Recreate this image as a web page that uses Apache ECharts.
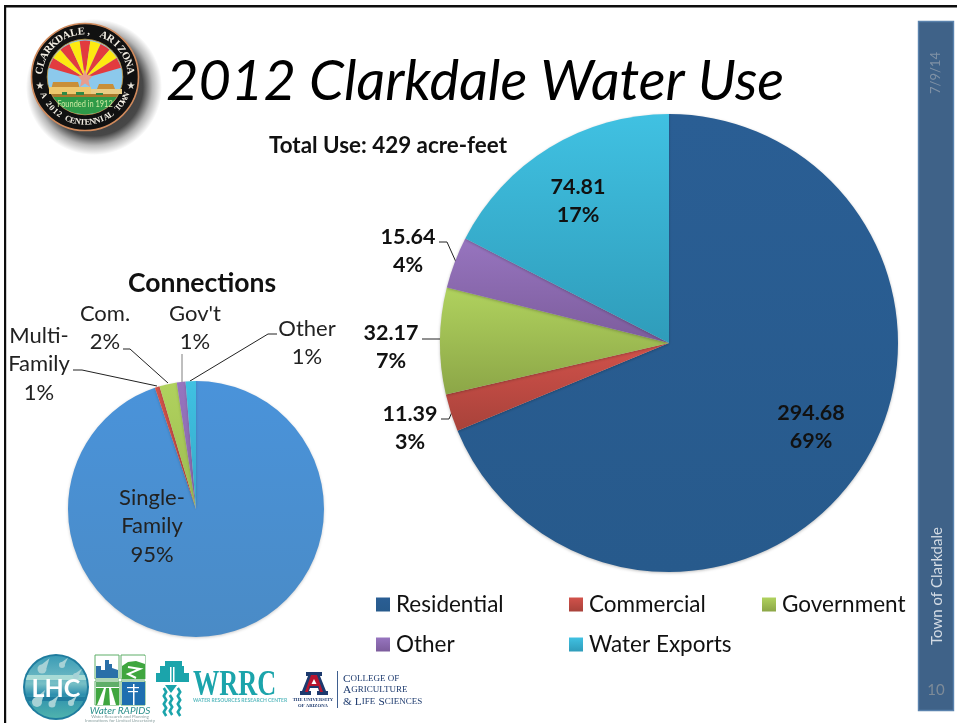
<!DOCTYPE html>
<html>
<head>
<meta charset="utf-8">
<title>2012 Clarkdale Water Use</title>
<script src="https://cdn.jsdelivr.net/npm/echarts@6/dist/echarts.min.js"></script>
<style>
html,body{margin:0;padding:0;background:#fff}
#chart{width:957px;height:723px}
</style>
</head>
<body>
<div id="chart"></div>
<script>
// Water use by sector, acre-feet
const useNames = ['Residential', 'Commercial', 'Government', 'Other', 'Water Exports'];
const useValues = [294.68, 11.39, 32.17, 15.64, 74.81];

// Service connections by customer type, percent
const connectionNames = ['Single-\nFamily', 'Multi-\nFamily', 'Com.', "Gov't", 'Other'];
const connectionValues = [94.8, 0.6, 2.2, 1.1, 1.3];

const useColors = [
  ['#2a5e94', '#275a8c'], ['#d2524b', '#a8423a'], ['#b0d25e', '#8ca647'],
  ['#9775bf', '#7c5c9c'], ['#40c1e2', '#2f9cba']
];
const connectionColors = [
  ['#4a93da', '#4a8bc6'], ['#d2524b', '#b8453e'], ['#b0d25e', '#9cbb50'],
  ['#9775bf', '#8665a8'], ['#40c1e2', '#35a9c8']
];

// Where each slice's label sits, with its leader line
const useLabelSpots = [
  {x: 811, y: 427, line: null},
  {x: 410, y: 428, line: [[441, 419], [449, 419], [452, 412]]},
  {x: 391, y: 347, line: [[422, 339], [432, 339], [442, 339]]},
  {x: 408, y: 251, line: [[439, 242], [447, 242], [456, 262]]},
  {x: 578, y: 201, line: null}
];
const connectionLabelSpots = [
  {x: 152, y: 526, line: null},
  {x: 39, y: 364, line: [[73, 370], [82, 370], [157, 386]]},
  {x: 105, y: 328, line: [[123, 349], [130, 349], [168, 383]]},
  {x: 195, y: 328, line: [[182, 354], [182, 368], [182, 382]], color: '#7f7f7f'},
  {x: 307, y: 343, line: [[277, 334], [268, 334], [190, 381]]}
];

const sans = 'Lato, Carlito, "Open Sans", sans-serif';
const serif = '"Liberation Serif", serif';

function vertical(pair) {
  return {type: 'linear', x: 0, y: 0, x2: 0, y2: 1,
    colorStops: [{offset: 0, color: pair[0]}, {offset: 1, color: pair[1]}]};
}

function pieData(names, values, colors, spots) {
  return names.map((name, i) => ({
    name: name,
    value: values[i],
    itemStyle: {color: vertical(colors[i])},
    labelLine: {show: !!spots[i].line, lineStyle: {color: spots[i].color || '#222', width: 1}}
  }));
}

function placeLabels(spots) {
  return params => {
    const spot = spots[params.dataIndex];
    const layout = {x: spot.x, y: spot.y, align: 'center', verticalAlign: 'middle'};
    if (spot.line) layout.labelLinePoints = spot.line;
    return layout;
  };
}

// Decoration helpers
function txt(text, x, y, font, fill, align, extra) {
  return Object.assign({
    type: 'text', x: x, y: y, silent: true,
    style: {text: text, font: font, fill: fill, align: align || 'left', verticalAlign: 'middle'}
  }, extra || {});
}
function rect(x, y, w, h, fill, extra) {
  return Object.assign({type: 'rect', shape: {x: x, y: y, width: w, height: h},
    style: {fill: fill}, silent: true}, extra || {});
}
function circle(cx, cy, r, style) {
  return {type: 'circle', shape: {cx: cx, cy: cy, r: r}, style: style, silent: true};
}
function poly(points, fill) {
  return {type: 'polygon', shape: {points: points}, style: {fill: fill}, silent: true};
}
// Slice of a disc lying between two horizontal lines
function band(cx, cy, r, y1, y2, fill) {
  const pts = [];
  for (let k = 0; k <= 12; k++) {
    const y = y1 + (y2 - y1) * k / 12, d = Math.sqrt(Math.max(0, r * r - (y - cy) * (y - cy)));
    pts.push([cx + d, y]);
  }
  for (let k = 12; k >= 0; k--) {
    const y = y1 + (y2 - y1) * k / 12, d = Math.sqrt(Math.max(0, r * r - (y - cy) * (y - cy)));
    pts.push([cx - d, y]);
  }
  return poly(pts, fill);
}
// Letters set along a circle; angles in degrees, clockwise from the top
function ringText(text, cx, cy, r, from, to, font, fill, bottom) {
  const chars = Array.from(text);
  return chars.map((ch, i) => {
    const a = (from + (to - from) * i / (chars.length - 1)) * Math.PI / 180;
    const rot = bottom ? -(a - Math.PI) : -a;
    return {
      type: 'text', silent: true, rotation: rot,
      x: cx + r * Math.sin(a), y: cy - r * Math.cos(a),
      style: {text: ch, font: font, fill: fill, align: 'center', verticalAlign: 'middle'}
    };
  });
}

function sealParts() {
  const cx = 85, cy = 77, parts = [];
  // Soft drop shadow falling to the lower right
  parts.push(circle(cx + 9, cy + 10, 68, {fill: {type: 'radial', x: 0.5, y: 0.5, r: 0.5, colorStops: [
    {offset: 0, color: 'rgba(0,0,0,0.8)'}, {offset: 0.72, color: 'rgba(0,0,0,0.72)'},
    {offset: 0.86, color: 'rgba(0,0,0,0.28)'}, {offset: 1, color: 'rgba(0,0,0,0)'}]}}));
  parts.push(circle(cx, cy, 53.5, {fill: '#111', stroke: '#d08a5c', lineWidth: 1.6}));
  parts.push(circle(cx, cy, 37.8, {fill: '#8cc9ec', stroke: '#c89a3c', lineWidth: 0.8}));
  const rays = 9, startDeg = -164, stepDeg = 148 / rays;
  for (let i = 0; i < rays; i++) {
    parts.push({
      type: 'sector', silent: true,
      shape: {cx: cx, cy: cy + 1, r: 37.4, r0: 0,
        startAngle: (startDeg + i * stepDeg) * Math.PI / 180,
        endAngle: (startDeg + (i + 1) * stepDeg) * Math.PI / 180, clockwise: true},
      style: {fill: i % 2 ? '#fdea10' : '#e23b3f'}
    });
  }
  parts.push({type: 'polygon', silent: true, shape: {points: [
    [cx, 69], [cx + 2, 75], [cx + 7.5, 76], [cx + 3.5, 80.5], [cx + 5, 87],
    [cx, 83.5], [cx - 5, 87], [cx - 3.5, 80.5], [cx - 7.5, 76], [cx - 2, 75]
  ]}, style: {fill: '#e89c8c'}});
  parts.push(band(cx, cy, 37.4, 97, 114.4, '#2f9a48'));
  parts.push(band(cx, cy, 37.4, 94, 97, '#a8792c'));
  parts.push(poly([[51, 90], [53, 82], [78, 82], [80, 89], [82, 90]], '#c98f38'));
  parts.push(poly([[97, 89], [99, 84], [113, 84], [115, 89]], '#c98f38'));
  parts.push(rect(49, 87, 42, 7, '#eec86e'));
  parts.push(rect(91, 89, 31, 5, '#e9cd85'));
  parts.push(rect(62, 92, 5, 3, '#2f8a45'));
  parts.push(rect(76, 92, 8, 3, '#2f8a45'));
  parts.push(rect(96, 93, 7, 2, '#2f8a45'));
  parts.push(txt('Founded in 1912', cx, 103.5, '10px ' + sans, '#cdeaa0', 'center', {scaleX: 0.74}));
  parts.push(...ringText('CLARKDALE, ARIZONA', cx, cy, 45.5, -82, 82, 'bold 10.5px ' + serif, '#f4efe4', false));
  parts.push(...ringText('A 2012 CENTENNIAL TOWN', cx, cy, 45.5, 246, 114, 'bold 8.5px ' + serif, '#f4efe4', true));
  parts.push(txt('★', 40, 86, '10px "DejaVu Sans"', '#e8e4da', 'center'));
  parts.push(txt('★', 131, 86, '10px "DejaVu Sans"', '#e8e4da', 'center'));
  return parts;
}

function lhcParts() {
  const cx = 56, cy = 687, r = 33, parts = [];
  parts.push(circle(cx, cy, r, {fill: '#1f7c9e'}));
  parts.push(circle(cx, cy, r - 2, {fill: {type: 'linear', x: 0, y: 0, x2: 0, y2: 1, colorStops: [
    {offset: 0, color: '#3b9cb6'}, {offset: 0.45, color: '#77bfc6'},
    {offset: 0.62, color: '#2e8fae'}, {offset: 1, color: '#4fb3ad'}]}}));
  parts.push(band(cx, cy, r - 2, 675, 680, '#a8dbd6'));
  parts.push(band(cx, cy, r - 2, 697, 701, '#1f7c9e'));
  [[42, 669, 4.5], [62, 665, 3], [76, 676, 3], [37, 702, 5], [52, 704, 3.5], [71, 703, 3]].forEach(d => {
    parts.push(circle(d[0], d[1], d[2], {fill: '#a7d2d6'}));
    parts.push(poly([[d[0] - d[2], d[1] - 1], [d[0] + d[2] + 3, d[1] - d[2] * 2.4], [d[0] + d[2], d[1] - 1]], '#a7d2d6'));
  });
  parts.push(txt('LHC', cx, 689, 'bold 25px ' + sans, '#ffffff', 'center'));
  return parts;
}

function rapidsParts() {
  const parts = [];
  [[95, 655], [121, 655], [95, 681], [121, 681]].forEach(o => parts.push(rect(o[0], o[1], 24, 24, '#ffffff',
    {style: {fill: '#fff', stroke: '#5fae68', lineWidth: 1}})));
  parts.push(poly([[96, 678], [96, 666], [101, 666], [101, 670], [105, 670], [105, 660], [109, 660], [109, 664],
    [112, 664], [112, 668], [118, 670], [118, 678]], '#2a6fa8'));
  parts.push(rect(122, 656, 23, 23, '#3fa63f'));
  parts.push(poly([[122, 656], [145, 656], [145, 664], [136, 661], [128, 662], [122, 666]], '#ffffff'));
  parts.push({type: 'polyline', silent: true, shape: {points: [[128, 667], [140, 669], [128, 674], [136, 678]]},
    style: {stroke: '#fff', fill: 'none', lineWidth: 2}});
  parts.push(rect(96, 682, 23, 23, '#ffffff'));
  parts.push(poly([[96, 688], [104, 688], [97, 705], [96, 705]], '#3fa63f'));
  parts.push(poly([[106, 688], [109, 688], [110, 705], [103, 705]], '#3fa63f'));
  parts.push(poly([[111, 688], [119, 688], [119, 705], [116, 705]], '#3fa63f'));
  parts.push(rect(96, 682, 23, 5, '#5fae68'));
  parts.push(rect(122, 682, 23, 23, '#1f6fb0'));
  parts.push(rect(133, 684, 1.5, 21, '#ffffff'));
  parts.push(rect(127, 687, 12, 1.2, '#ffffff'));
  parts.push(rect(128, 691, 10, 1.2, '#ffffff'));
  parts.push(txt('Water RAPIDS', 120, 711, 'italic 10px ' + sans, '#2a8f8a', 'center'));
  parts.push(txt('Water Research and Planning', 120, 716.5, '4.5px ' + sans, '#8aa0a0', 'center'));
  parts.push(txt('Innovations for Limited Uncertainty', 120, 721, '4.5px ' + sans, '#8aa0a0', 'center'));
  return parts;
}

function wrrcParts() {
  const teal = '#1ba4ab', parts = [];
  parts.push(rect(165, 661, 17, 5, teal));
  parts.push(rect(160, 666, 24, 7, teal));
  parts.push(rect(156, 673, 33, 9, teal));
  parts.push(rect(170, 667, 1.5, 15, '#ffffff'));
  parts.push(rect(173, 667, 1.5, 15, '#ffffff'));
  parts.push(poly([[165, 685], [177, 685], [171, 693]], teal));
  [[165, 688], [171, 695], [179, 688]].forEach(c => {
    const pts = [];
    for (let y = c[1]; y <= 718; y += 4) pts.push([c[0] + ((y - c[1]) % 8 ? 1.2 : -1.2), y]);
    parts.push({type: 'polyline', silent: true, shape: {points: pts},
      style: {stroke: teal, fill: 'none', lineWidth: 2.6}});
  });
  parts.push(txt('WRRC', 193, 686, 'bold 35px ' + serif, teal, 'left', {scaleX: 0.75}));
  parts.push(txt('WATER RESOURCES RESEARCH CENTER', 193, 700, 'bold 5px ' + sans, '#5fbcc1', 'left'));
  return parts;
}

function arizonaParts() {
  const navy = '#1d3a6e', red = '#b8152f', parts = [];
  parts.push(poly([[306, 672], [322, 672], [322, 676], [320, 676], [326, 691], [328, 691], [328, 695],
    [317, 695], [317, 691], [319, 691], [318, 688], [310, 688], [309, 691], [311, 691], [311, 695],
    [300, 695], [300, 691], [302, 691], [308, 676], [306, 676]], navy));
  parts.push(poly([[311, 675], [317, 675], [323, 692], [320, 692], [318.5, 686], [309.5, 686], [308, 692], [305, 692]], red));
  parts.push(poly([[314, 679], [316.5, 684], [311.5, 684]], '#ffffff'));
  parts.push(txt('THE UNIVERSITY', 313, 699.5, 'bold 4.7px ' + serif, navy, 'center'));
  parts.push(txt('OF ARIZONA', 313, 706, 'bold 4.7px ' + serif, navy, 'center'));
  parts.push(rect(337, 671, 1, 37, '#3f5f8f'));
  const caps = {big: {font: '11.4px ' + serif, fill: navy}, small: {font: '9px ' + serif, fill: navy}};
  const rich = (text, y) => ({
    type: 'text', x: 343, y: y, silent: true,
    style: {text: text, rich: caps, align: 'left', verticalAlign: 'middle'}
  });
  parts.push(rich('{big|C}{small|OLLEGE OF}', 679));
  parts.push(rich('{big|A}{small|GRICULTURE}', 690));
  parts.push(rich('{big|& L}{small|IFE} {big|S}{small|CIENCES}', 702));
  return parts;
}

function frameParts() {
  return [
    rect(4, 5, 953, 2.4, '#0d0d0d'),
    rect(4, 5, 2.2, 718, '#0d0d0d'),
    rect(918.5, 21.5, 35, 689, '#3f6288', {style: {fill: '#3f6288', stroke: '#5a82ad', lineWidth: 1.4}}),
    txt('7/9/14', 936, 73, '13px ' + sans, '#7f91a5', 'center', {rotation: Math.PI / 2}),
    txt('Town of Clarkdale', 937, 586, '15px ' + sans, '#d3dbe4', 'center', {rotation: Math.PI / 2}),
    txt('10', 936, 690, '15px ' + sans, '#7e8b98', 'center')
  ];
}

const legendSpots = [[376, 593], [569, 593], [762, 593], [376, 633], [569, 633]];

const chart = echarts.init(document.getElementById('chart'), null, {renderer: 'canvas'});
chart.setOption({
  animation: false,
  backgroundColor: '#ffffff',
  title: [
    {text: '2012 Clarkdale Water Use', left: 161, top: 49,
      textStyle: {fontFamily: sans, fontStyle: 'italic', fontWeight: 'normal', fontSize: 56, color: '#000'}},
    {text: 'Total Use: 429 acre-feet', left: 264, top: 130,
      textStyle: {fontFamily: sans, fontWeight: 'bold', fontSize: 22.4, color: '#111'}},
    {text: 'Connections', left: 123, top: 265,
      textStyle: {fontFamily: sans, fontWeight: 'bold', fontSize: 26.5, color: '#111'}}
  ],
  legend: useNames.map((name, i) => ({
    data: [name], left: legendSpots[i][0], top: legendSpots[i][1], padding: 0,
    icon: 'rect', itemWidth: 14, itemHeight: 14, itemGap: 0, selectedMode: false,
    textStyle: {fontFamily: sans, fontSize: 22.5, color: '#111', padding: [0, 0, 0, 1]}
  })),
  series: [
    {
      type: 'pie', name: 'Water use', center: [669, 343], radius: [0, 229],
      startAngle: 90, clockwise: true, percentPrecision: 0, avoidLabelOverlap: false,
      data: pieData(useNames, useValues, useColors, useLabelSpots),
      itemStyle: {shadowBlur: 3, shadowColor: 'rgba(0,0,0,0.25)', shadowOffsetY: 1},
      label: {show: true, position: 'outside', formatter: p => p.value.toFixed(2) + '\n' + p.percent + '%',
        fontFamily: sans, fontSize: 21.5, fontWeight: 'bold', lineHeight: 28, color: '#111', align: 'center'},
      labelLine: {show: true, length: 10, length2: 10},
      labelLayout: placeLabels(useLabelSpots),
      emphasis: {disabled: true}
    },
    {
      type: 'pie', name: 'Connections', center: [196, 509], radius: [0, 128],
      startAngle: 90, clockwise: true, percentPrecision: 0, avoidLabelOverlap: false,
      data: pieData(connectionNames, connectionValues, connectionColors, connectionLabelSpots),
      itemStyle: {shadowBlur: 3, shadowColor: 'rgba(0,0,0,0.2)', shadowOffsetY: 1},
      label: {show: true, position: 'outside', formatter: p => p.name + '\n' + p.percent + '%',
        fontFamily: sans, fontSize: 22, lineHeight: 28.5, color: '#222', align: 'center'},
      labelLine: {show: true, length: 10, length2: 10},
      labelLayout: placeLabels(connectionLabelSpots),
      emphasis: {disabled: true}
    }
  ],
  graphic: {elements: [].concat(frameParts(), sealParts(), lhcParts(), rapidsParts(), wrrcParts(), arizonaParts())}
});
</script>
</body>
</html>
